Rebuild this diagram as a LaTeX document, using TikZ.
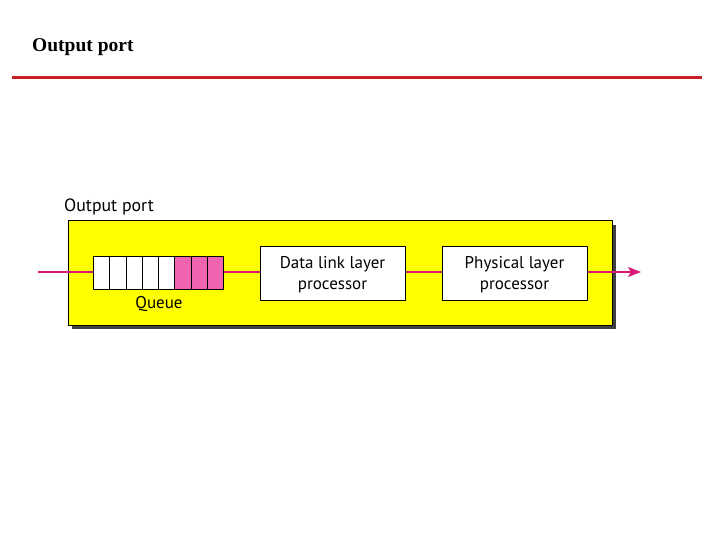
\documentclass[tikz,border=0pt]{standalone}
\usepackage{fontspec}
\setmainfont{Liberation Serif}
\setsansfont{PT Sans}
\usetikzlibrary{positioning,arrows.meta}
\definecolor{portred}{RGB}{200,30,35}
\definecolor{linkpink}{RGB}{215,25,115}
\definecolor{cellpink}{RGB}{240,100,175}
\definecolor{portyellow}{RGB}{255,255,0}
\tikzset{
	proc/.style={draw,fill=white,line width=1pt,minimum width=145pt,minimum height=54pt,align=center,inner sep=0pt,font=\sffamily\fontsize{17}{21}\selectfont},
	cell/.style={draw,line width=1pt,minimum width=16.25pt,minimum height=33pt,inner sep=0pt,anchor=west},
	wire/.style={linkpink,line width=1.8pt}
}
\begin{document}
\begin{tikzpicture}[x=1pt,y=-1pt,>={Stealth[length=13pt,width=10pt,inset=3pt]},line join=round]
	\useasboundingbox (0,0) rectangle (720,540);
	\node[anchor=west,inner sep=0pt,font=\bfseries\fontsize{19.5}{22}\selectfont] (title) at (32,47) {Output port};
	\draw[portred,line width=3pt] (12,78) -- (702,78);
	% port frame with shadow
	\fill[black!75] (72,225) rectangle (616,329);
	\draw[fill=portyellow,line width=1pt] (68,221) rectangle (612,325);
	\node[anchor=west,inner sep=0pt,font=\sffamily\fontsize{17.8}{20}\selectfont] (portlbl) at (64,207) {Output port};
	% queue
	\foreach \i/\c in {0/white,1/white,2/white,3/white,4/white,5/cellpink,6/cellpink,7/cellpink}
		\node[cell,fill=\c] (q\i) at ({93+16.25*\i},272.5) {};
	\node[font=\sffamily\fontsize{17}{20}\selectfont,inner sep=0pt] (qlbl) at (159,304) {Queue};
	% processors
	\node[proc] (dl) at (332.5,273) {\strut Data link layer\\processor};
	\node[proc] (ph) at (514.5,273) {\strut Physical layer\\processor};
	\coordinate (in) at (38,272);
	\coordinate (out) at (641,272);
	\draw[wire] (in) -- (q0.west|-in);
	\draw[wire] (q7.east|-in) -- (dl.west|-in);
	\draw[wire] (dl.east|-in) -- (ph.west|-in);
	\draw[wire,->] (ph.east|-in) -- (out);
\end{tikzpicture}
\end{document}
